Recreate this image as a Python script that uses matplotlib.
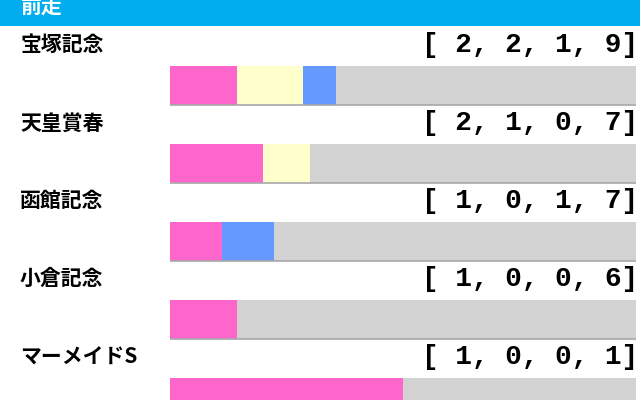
import matplotlib
matplotlib.use("Agg")
import matplotlib.pyplot as plt
from matplotlib.patches import Rectangle
import numpy as np

categories = ["宝塚記念", "天皇賞春", "函館記念", "小倉記念", "マーメイドS"]
first = [2, 2, 1, 1, 1]
second = [2, 1, 0, 0, 0]
third = [1, 0, 1, 0, 0]
other = [9, 7, 7, 6, 1]
header = "前走"

colors = ["#FF66CC", "#FFFFCC", "#6699FF", "#D2D2D2"]

W, H = 640, 400
fig = plt.figure(figsize=(W / 100, H / 100), dpi=100)
fig.patch.set_facecolor("white")

# header band
fig.add_artist(Rectangle((0, 1 - 26 / H), 1, 26 / H, transform=fig.transFigure,
                         facecolor="#00AEEF", edgecolor="none"))
fig.text(20 / W, 1 - 6 / H, header, color="white", fontsize=15, fontweight="bold",
         family=["Noto Sans CJK JP", "DejaVu Sans"], va="center", ha="left")

left_px, width_px = 170, 466
row_px = 78
first_center = 85.5
ax = fig.add_axes([left_px / W, 0, width_px / W, 1])
ax.set_xlim(0, 1)
ax.set_ylim((H - first_center) / row_px, -first_center / row_px)
ax.axis("off")

data = np.array([first, second, third, other], dtype=float)
totals = data.sum(axis=0)
fracs = data / totals
y = np.arange(len(categories))
bh = 39 / row_px
lefts = np.zeros(len(categories))
for k in range(4):
    ax.barh(y, fracs[k], left=lefts, height=bh, color=colors[k], edgecolor="none", zorder=2)
    lefts += fracs[k]
# subtle bottom shadow line
ax.hlines(y + bh / 2, 0, 1, color="#A8A8A8", lw=1.2, zorder=3)

for i, name in enumerate(categories):
    ax.text(-150 / width_px, i - 0.52, name, fontsize=15, fontweight="bold",
            family=["Noto Sans CJK JP", "DejaVu Sans"], va="center", ha="left",
            clip_on=False)
    rec = "[ %d, %d, %d, %d]" % (first[i], second[i], third[i], other[i])
    ax.text(1.005, i - 0.52, rec, fontsize=20, fontweight="bold",
            family=["Liberation Mono", "DejaVu Sans Mono"], va="center", ha="right",
            clip_on=False)

fig.savefig("out.png", dpi=100, facecolor="white")
